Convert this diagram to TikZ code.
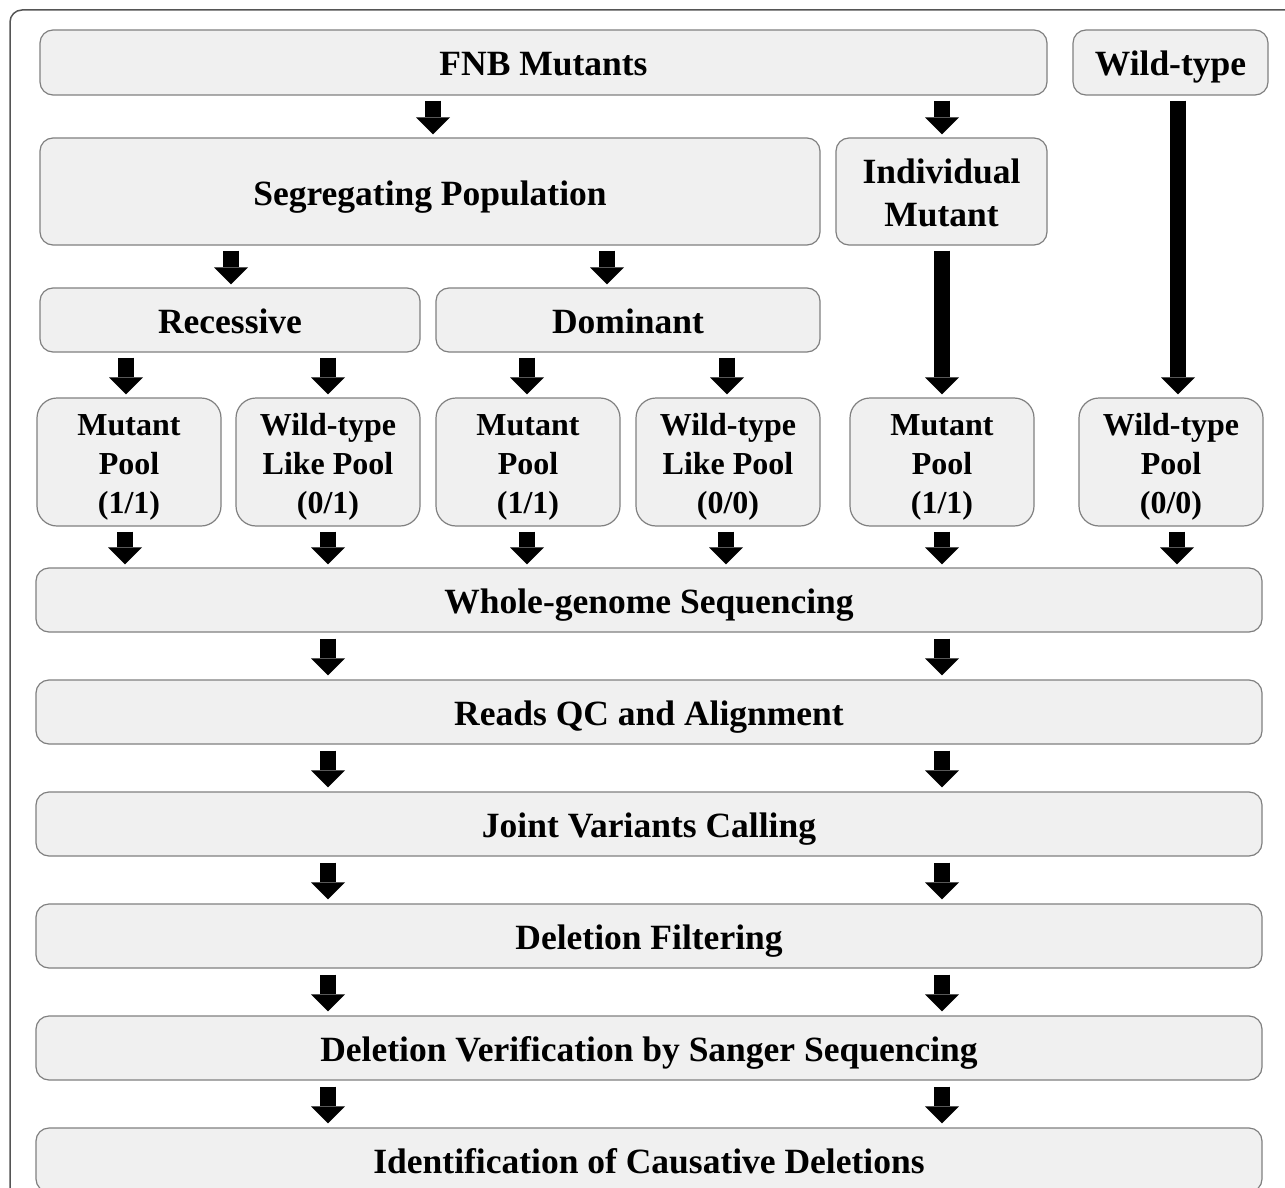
\documentclass[tikz,border=0pt]{standalone}
\usepackage{fontspec}
\setmainfont{Liberation Serif}
\usetikzlibrary{arrows.meta}
\definecolor{boxfill}{HTML}{F0F0F0}
\definecolor{boxline}{HTML}{808080}
\definecolor{frameline}{HTML}{555555}
\newcommand\poolpad{\rule{0pt}{32pt}}
\tikzset{
  box/.style={draw=boxline, fill=boxfill, line width=1.2pt, rounded corners=13pt,
    font=\fontsize{35.5}{39}\selectfont\bfseries, align=center, inner sep=0pt},
  onebox/.style={box, text height=27pt, text depth=0pt},
  poolbox/.style={box, rounded corners=20pt, minimum width=184pt, minimum height=128pt,
    font=\fontsize{32}{39}\selectfont\bfseries},
  widebox/.style={onebox, minimum width=1226pt, minimum height=64pt},
  blk/.style={line width=16pt, black, -{Triangle[length=17pt,width=34pt,line width=0pt]},
    shorten <=5pt, shorten >=3pt},
}
\begin{document}
\begin{tikzpicture}[x=1pt,y=-1pt]
\useasboundingbox (0,0) rectangle (1285,1188);
\clip (0,0) rectangle (1285,1188);
\draw[frameline, line width=1.5pt, rounded corners=12pt] (10,1250) -- (10,10) -- (1350,10);

% top row
\node[onebox, minimum width=1007pt, minimum height=65pt] (fnb) at (543.5,62.5) {FNB Mutants};
\node[onebox, minimum width=195pt, minimum height=65pt] (wt) at (1170.5,62.5) {Wild-type};
% second row
\node[onebox, minimum width=780pt, minimum height=107pt] (seg) at (430,191.5) {Segregating Population};
\node[box, minimum width=211pt, minimum height=107pt, font=\fontsize{35.5}{43}\selectfont\bfseries] (ind) at (941.5,191.5) {\rule{0pt}{27pt}Individual\\Mutant};
% third row
\node[onebox, minimum width=380pt, minimum height=64pt] (rec) at (230,320) {Recessive};
\node[onebox, minimum width=384pt, minimum height=64pt] (dom) at (628,320) {Dominant};
% pools
\node[poolbox] (p1) at (129,462) {\poolpad Mutant\\Pool\\(1/1)};
\node[poolbox] (p2) at (328,462) {\poolpad Wild-type\\Like Pool\\(0/1)};
\node[poolbox] (p3) at (528,462) {\poolpad Mutant\\Pool\\(1/1)};
\node[poolbox] (p4) at (728,462) {\poolpad Wild-type\\Like Pool\\(0/0)};
\node[poolbox] (p5) at (942,462) {\poolpad Mutant\\Pool\\(1/1)};
\node[poolbox] (p6) at (1171,462) {\poolpad Wild-type\\Pool\\(0/0)};
% pipeline
\node[widebox] (wgs) at (649,600) {Whole-genome Sequencing};
\node[widebox] (rqc) at (649,712) {Reads QC and Alignment};
\node[widebox] (jvc) at (649,824) {Joint Variants Calling};
\node[widebox] (dfl) at (649,936) {Deletion Filtering};
\node[widebox] (dvs) at (649,1048) {Deletion Verification by Sanger Sequencing};
\node[widebox] (icd) at (649,1160) {Identification of Causative Deletions};

% arrows
\draw[blk] (fnb.south -| 433,0) -- (seg.north -| 433,0);
\draw[blk] (fnb.south -| 942,0) -- (ind.north -| 942,0);
\draw[blk] (wt.south -| 1178,0) -- (p6.north -| 1178,0);
\draw[blk] (seg.south -| 231,0) -- (rec.north -| 231,0);
\draw[blk] (seg.south -| 607,0) -- (dom.north -| 607,0);
\draw[blk] (rec.south -| 126,0) -- (p1.north -| 126,0);
\draw[blk] (rec.south -| 328,0) -- (p2.north -| 328,0);
\draw[blk] (dom.south -| 527,0) -- (p3.north -| 527,0);
\draw[blk] (dom.south -| 727,0) -- (p4.north -| 727,0);
\draw[blk] (ind.south -| 942,0) -- (p5.north -| 942,0);
\draw[blk] (p1.south -| 125,0) -- (wgs.north -| 125,0);
\draw[blk] (p2.south -| 328,0) -- (wgs.north -| 328,0);
\draw[blk] (p3.south -| 527,0) -- (wgs.north -| 527,0);
\draw[blk] (p4.south -| 726,0) -- (wgs.north -| 726,0);
\draw[blk] (p5.south -| 942,0) -- (wgs.north -| 942,0);
\draw[blk] (p6.south -| 1177,0) -- (wgs.north -| 1177,0);
\foreach \a/\b in {wgs/rqc, rqc/jvc, jvc/dfl, dfl/dvs, dvs/icd}{
  \draw[blk, shorten <=6pt, shorten >=4pt] (\a.south -| 328,0) -- (\b.north -| 328,0);
  \draw[blk, shorten <=6pt, shorten >=4pt] (\a.south -| 942,0) -- (\b.north -| 942,0);
}
\end{tikzpicture}
\end{document}
